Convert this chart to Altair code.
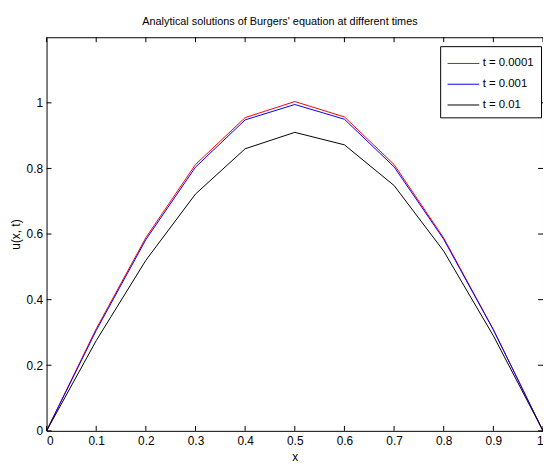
import altair as alt
import pandas as pd

x_vals = [0.0, 0.1, 0.2, 0.3, 0.4, 0.5, 0.6, 0.7, 0.8, 0.9, 1.0]
u_t0001 = [0, 0.311, 0.589, 0.812, 0.955, 1.004, 0.957, 0.812, 0.588, 0.309, 0]
u_t001 = [0, 0.306, 0.583, 0.804, 0.948, 0.995, 0.950, 0.805, 0.584, 0.308, 0]
u_t01 = [0, 0.275, 0.520, 0.722, 0.860, 0.910, 0.872, 0.748, 0.548, 0.290, 0]
series_names = ["t = 0.0001", "t = 0.001", "t = 0.01"]
series_colors = ["#ff0000", "#0000ff", "#000000"]
x_ticks = [0.0, 0.1, 0.2, 0.3, 0.4, 0.5, 0.6, 0.7, 0.8, 0.9, 1.0]
y_ticks = [0.0, 0.2, 0.4, 0.6, 0.8, 1.0]

W, H = 502, 398
FONT = "Liberation Sans, Arial, sans-serif"

rows = []
for name, vals in zip(series_names, [u_t0001, u_t001, u_t01]):
    for xv, uv in zip(x_vals, vals):
        rows.append({"x": xv, "u": uv, "series": name})
df = pd.DataFrame(rows)

xscale = alt.Scale(domain=[0, 1], nice=False, zero=False)
yscale = alt.Scale(domain=[0, 1.2], nice=False, zero=False)

xaxis = alt.Axis(values=x_ticks, format="~g", title="x", ticks=False, domain=False,
                 grid=False, labelPadding=5, titlePadding=5,
                 labelFont=FONT, labelFontSize=12, labelColor="black",
                 titleFont=FONT, titleFontSize=12, titleFontWeight="normal", titleColor="black")
yaxis = alt.Axis(values=y_ticks, format="~g", title="u(x, t)", ticks=False, domain=False,
                 grid=False, labelPadding=4, titlePadding=4,
                 labelFont=FONT, labelFontSize=12, labelColor="black",
                 titleFont=FONT, titleFontSize=12, titleFontWeight="normal", titleColor="black")

lines = alt.Chart(df).mark_line(strokeWidth=1).encode(
    x=alt.X("x:Q", scale=xscale, axis=xaxis),
    y=alt.Y("u:Q", scale=yscale, axis=yaxis),
    color=alt.Color("series:N", sort=series_names,
                    scale=alt.Scale(domain=series_names, range=series_colors),
                    legend=alt.Legend(title=None, orient="none", legendX=398, legendY=9,
                                      symbolType="M-1,0H2.2", symbolSize=400,
                                      symbolStrokeWidth=1,
                                      labelFontSize=11.5, labelFont=FONT, labelColor="black",
                                      rowPadding=5, padding=7,
                                      strokeColor="black", fillColor="white",
                                      cornerRadius=0, labelOffset=15, labelLimit=200)),
    order=alt.Order("x:Q"),
)

xt = pd.DataFrame({"x": x_ticks})
yt = pd.DataFrame({"u": y_ticks})

bottom_ticks = alt.Chart(xt).mark_rule(color="black", strokeWidth=1).encode(
    x=alt.X("x:Q", scale=xscale, axis=xaxis), y=alt.value(H - 5), y2=alt.value(H))
top_ticks = alt.Chart(xt).mark_rule(color="black", strokeWidth=1).encode(
    x=alt.X("x:Q", scale=xscale, axis=xaxis), y=alt.value(0), y2=alt.value(5))
left_ticks = alt.Chart(yt).mark_rule(color="black", strokeWidth=1).encode(
    y=alt.Y("u:Q", scale=yscale, axis=yaxis), x=alt.value(0), x2=alt.value(5))
right_ticks = alt.Chart(yt).mark_rule(color="black", strokeWidth=1).encode(
    y=alt.Y("u:Q", scale=yscale, axis=yaxis), x=alt.value(W - 5), x2=alt.value(W))

chart = alt.layer(lines, bottom_ticks, top_ticks, left_ticks, right_ticks).properties(
    width=W, height=H,
    background="white",
    title=alt.TitleParams("Analytical solutions of Burgers' equation at different times",
                          fontSize=11, fontWeight="normal", font=FONT, color="black",
                          offset=10, dx=-15),
    autosize="none",
    padding={"left": 39, "top": 27, "right": 0, "bottom": 35},
).configure_view(stroke="black", strokeWidth=1)

chart.save("out.html", embed_options={"renderer": "svg", "actions": False})
